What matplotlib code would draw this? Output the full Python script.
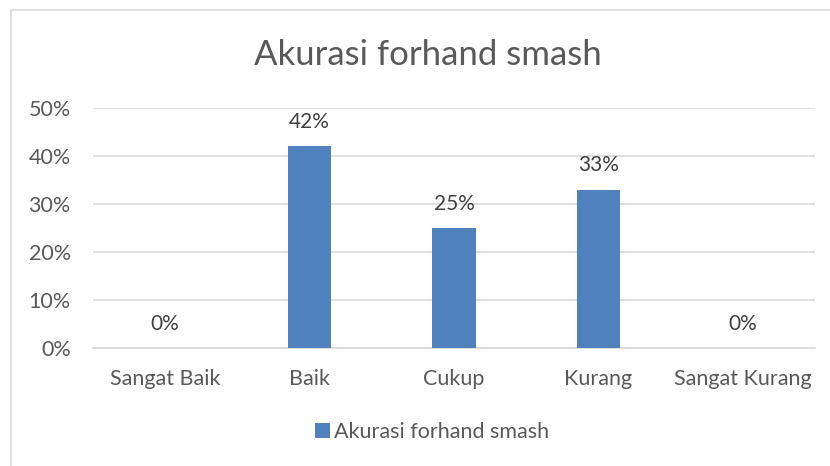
import matplotlib.pyplot as plt
from matplotlib.patches import Rectangle
from matplotlib.ticker import PercentFormatter

categories = ['Sangat Baik', 'Baik', 'Cukup', 'Kurang', 'Sangat Kurang']
values = [0, 42, 25, 33, 0]
yticks = [0, 10, 20, 30, 40, 50]

plt.rcParams['font.family'] = ['Lato', 'DejaVu Sans']
grey = '#595959'
blue = '#4f81bd'

fig = plt.figure(figsize=(8.3, 4.66), dpi=100)
ax = fig.add_axes([93 / 830, 1 - 348 / 466, (815 - 93) / 830, (348 - 108) / 466])

# outer chart border like an Excel chart area
fig.patches.append(Rectangle((11 / 830, -0.05), 1.2, 1 - 10 / 466 + 0.05,
                             transform=fig.transFigure, fill=False,
                             edgecolor='#d9d9d9', linewidth=1.2))

x = range(len(categories))
bars = ax.bar(x, values, width=0.3, color=blue, label='Akurasi forhand smash', zorder=3)
for i, v in enumerate(values):
    ax.text(i, v + 3, f'{v}%', ha='center', va='bottom', fontsize=15, color='#404040')

ax.set_xlim(-0.5, len(categories) - 0.5)
ax.set_ylim(0, 50)
ax.set_yticks(yticks)
ax.yaxis.set_major_formatter(PercentFormatter(decimals=0))
ax.set_xticks(list(x))
ax.set_xticklabels(categories)
ax.grid(axis='y', color='#d9d9d9', linewidth=1.2, zorder=0)
for s in ['top', 'right', 'left']:
    ax.spines[s].set_visible(False)
ax.spines['bottom'].set_color('#d9d9d9')
ax.spines['bottom'].set_linewidth(1.2)
ax.tick_params(length=0, colors=grey, labelsize=15.5)
ax.tick_params(axis='x', pad=15)
ax.tick_params(axis='y', pad=16)

fig.text(428 / 830, 1 - 55 / 466, 'Akurasi forhand smash', ha='center', va='center',
         fontsize=25, color=grey)
fig.legend(handles=[bars], labels=['Akurasi forhand smash'], loc='center',
           bbox_to_anchor=(432 / 830, 1 - 432 / 466), frameon=False, fontsize=15.5,
           handlelength=0.7, handleheight=0.7, handletextpad=0.2, labelcolor=grey)

fig.savefig('out.png', dpi=100)
